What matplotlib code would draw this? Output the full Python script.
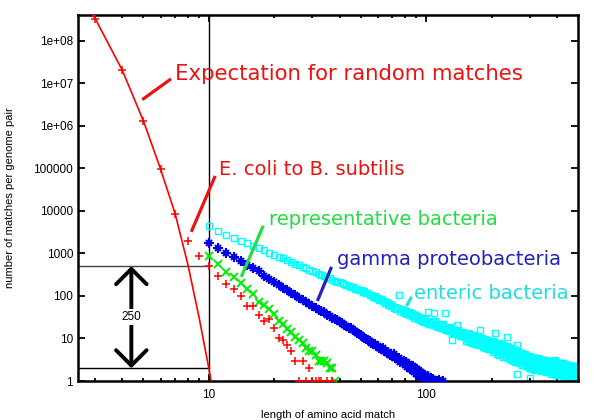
import matplotlib
matplotlib.use("Agg")
import matplotlib.pyplot as plt
from matplotlib.ticker import FuncFormatter, NullLocator

# expected number of random matches (line), by match length
exp_len = [2, 3, 4, 5, 6, 7, 8, 9, 10, 11]
exp_val = [6e9, 3.3e8, 2.0e7, 1.3e6, 9.5e4, 8500, 560, 33, 2, 0.12]

# E. coli to B. subtilis
eb_len = [8, 9, 10, 11, 12, 13, 14, 15, 16, 17, 18, 19, 20, 21, 22, 23, 24, 25,
          26, 27, 28, 29, 30, 31, 32, 33, 35, 37]
eb_val = [1950, 870, 500, 295, 190, 146, 100, 58, 58, 36, 26, 28, 18, 10, 9, 7,
          5, 3, 1, 3, 1, 2, 1, 1, 1, 1, 1, 1]

# representative bacteria
rep_len = list(range(10, 39))
rep_val = [870, 560, 365, 280, 200, 146, 112, 72, 62, 49, 38, 26, 22, 17, 14, 11,
           9, 8, 6, 5, 5, 4, 3, 3, 3, 2.6, 2, 2, 1]

# gamma proteobacteria
gam_len = list(range(10, 107)) + [108, 110, 112, 115, 119]
gam_val = [1780, 1350, 1020, 830, 670, 540, 460, 385, 300, 255,
           212, 185, 152, 136, 114, 104, 88, 80, 71, 66,
           58, 53, 47, 44, 41, 36, 34, 31, 28, 27,
           25, 23, 21, 20, 18, 17.5, 15.5, 15, 13.5, 13,
           12, 11, 10.5, 9.5, 9.2, 8.8, 8, 7.6, 7.4, 6.6,
           6.8, 6, 5.6, 5.9, 5, 5.2, 4.6, 4.8, 4.1, 4.4,
           3.9, 4.2, 3.4, 3.7, 3.1, 3.5, 2.8, 3.2, 2.6, 2.9,
           2.4, 2.8, 2.1, 2.5, 1.9, 2.3, 1.8, 2.2, 1.6, 2.0,
           1.5, 1.9, 1.4, 1.7, 1.3, 1.6, 1.2, 1.5, 1.1, 1.4,
           1.2, 1.0, 1.3, 1.1, 1.0, 1.2, 1.0,
           1.1, 1.0, 1.0, 1.05, 1.0]

# enteric bacteria
ent_len = list(range(10, 501))
ent_val = [4460, 3400, 2740, 2300, 1960, 1780, 1500, 1320, 1170, 1030,
           920, 830, 760, 690, 630, 570, 520, 480, 450, 410,
           385, 355, 335, 305, 292, 270, 258, 238, 230, 214,
           208, 196, 192, 178, 174, 162, 160, 148, 147, 137,
           135, 126, 127, 116, 114, 105, 105, 96, 97, 88,
           89, 81, 83, 74, 77, 68, 71, 62, 66, 57,
           60, 52, 56, 49, 53, 105, 44, 49, 42, 46,
           40, 44, 37, 41, 35, 39, 33, 37, 31, 36,
           30, 34, 29, 32, 27, 31, 26, 30, 25, 28, 24.5,
           23.5, 41, 21.6, 24.9, 22.3, 26.3, 21.2, 24.4, 40, 25.4,
           20, 22, 18.4, 21.2, 19, 22.4, 18, 20.8, 19.4, 21.6,
           17, 40, 15.6, 18, 16.2, 19, 15.3, 17.7, 16.5, 18.4,
           14.5, 9.2, 13.3, 15.4, 13.8, 16.2, 13.1, 21, 14.1, 15.7,
           12.4, 13.6, 11.4, 13.1, 11.8, 13.9, 11.2, 12.9, 12, 13.4,
           10.8, 13, 8.9, 12.4, 9.5, 13.5, 8.4, 11.7, 9.9, 12.7,
           9.5, 11.4, 7.8, 10.9, 8.4, 11.9, 7.4, 10.3, 8.7, 11.2,
           8.5, 10.2, 7.0, 9.8, 7.5, 10.6, 16, 9.2, 7.8, 10,
           7.7, 9.2, 6.3, 8.9, 6.8, 9.6, 6, 8.3, 7.1, 9.1,
           7, 8.4, 5.7, 8.1, 6.2, 8.8, 5.5, 7.6, 6.4, 8.3,
           6.4, 8.3, 4.8, 7.7, 5.4, 8.6, 13.5, 7, 5.8, 8,
           5.8, 7.5, 4.4, 7, 4.9, 7.8, 4.1, 6.4, 5.2, 7.3,
           5.3, 6.9, 4, 6.4, 4.5, 7.2, 3.7, 5.8, 4.8, 6.6,
           4.8, 6.2, 3.6, 5.8, 11, 6.5, 3.4, 5.3, 4.3, 6,
           4.4, 5.7, 3.3, 5.3, 3.7, 5.9, 3.1, 4.8, 4, 5.5,
           4, 5.2, 3, 4.8, 3.4, 5.4, 2.8, 4.4, 3.6, 5,
           7, 4.8, 1.5, 4.4, 3.1, 5, 2.6, 4.1, 3.3, 4.6,
           3.4, 4.4, 2.6, 4.1, 2.9, 4.6, 2.4, 3.7, 3.1, 4.3,
           3.2, 4.1, 2.4, 3.8, 2.7, 4.3, 2.2, 3.5, 2.8, 3.9,
           2.9, 3.8, 2.2, 3.5, 2.5, 3.9, 2.0, 3.2, 2.6, 1.2,
           2.7, 3.5, 2.0, 3.2, 2.3, 3.6, 1.9, 2.9, 2.4, 3.4,
           2.6, 3.4, 2.0, 3.1, 2.2, 3.5, 1.8, 2.9, 2.3, 3.3,
           2.5, 3.3, 1.9, 3.0, 2.1, 3.4, 1.8, 2.8, 2.3, 3.2,
           2.5, 3.2, 1.8, 2.9, 2.1, 3.3, 1.7, 2.7, 2.2, 3.1,
           2.4, 3.1, 1.8, 2.9, 2.0, 3.2, 1.7, 2.6, 2.1, 3.0,
           2.3, 3.0, 1.7, 2.8, 2.0, 3.1, 1.6, 2.5, 2.1, 2.9,
           2.2, 2.9, 1.7, 2.7, 1.9, 3.0, 1.6, 2.5, 2.0, 2.8,
           2.2, 2.8, 1.6, 2.6, 1.9, 2.9, 1.5, 2.4, 2.0, 2.7,
           2.1, 2.8, 1.6, 2.5, 1.8, 2.9, 1.5, 2.3, 1.9, 3.1,
           2.1, 2.7, 1.5, 2.5, 1.8, 2.8, 1.4, 2.3, 1.9, 2.6,
           2.0, 2.6, 1.5, 2.4, 1.7, 2.7, 1.4, 2.2, 1.8, 2.5,
           2.0, 2.5, 1.5, 2.3, 1.7, 2.6, 1.4, 2.1, 1.8, 2.4,
           1.9, 2.5, 1.4, 2.3, 1.6, 2.6, 1.3, 2.1, 1.7, 2.4,
           1.9, 2.4, 1.4, 2.2, 1.6, 2.5, 1.3, 2.0, 1.7, 2.3,
           1.8, 2.3, 1.1, 2.2, 1.5, 2.4, 1.0, 2.0, 1.6, 2.2,
           1.8, 2.3, 1.3, 2.1, 1.5, 2.4, 1.05, 2.0, 1.6, 2.2,
           1.7, 2.2, 1.0, 2.0, 1.4, 2.3, 1.2, 1.9, 1.5, 2.1,
           1.7, 2.2, 1.2, 2.0, 1.4, 2.2, 1.0, 1.8, 1.5, 2.1,
           1.6, 2.1, 1.2, 1.9, 1.4, 2.2, 1.05, 1.8, 1.5, 2.0,
           1.6, 2.0, 1.1, 1.9, 1.3, 2.1, 1.0, 1.7, 1.4, 2.0]

ytick_vals = [1, 10, 100, 1000, 10000, 1e5, 1e6, 1e7, 1e8]

red = '#ff0000'
green = '#00ee00'
blue = '#0000e8'
cyan = '#00ffff'

fig = plt.figure(figsize=(6, 4.2), dpi=100)
ax = fig.add_axes([78/600, 1-381/420, 500/600, 366/420])

ax.plot(ent_len, ent_val, 's', ms=5, mfc='none', mec=cyan, mew=1, zorder=2)
# gnuplot style star = plus and cross on top of each other
ax.plot(gam_len, gam_val, '+', ms=6.5, mec=blue, mew=1.5, zorder=3)
ax.plot(gam_len, gam_val, 'x', ms=5, mec=blue, mew=1.5, zorder=3)
ax.plot(rep_len, rep_val, 'x', ms=5.5, mec=green, mew=1.4, zorder=4)
ax.plot(eb_len, eb_val, '+', ms=6, mec=red, mew=1.1, zorder=5)
ax.plot(exp_len, exp_val, '-+', color=red, lw=1.2, ms=6, mew=1.1,
        markevery=[1, 2, 3, 4, 5], zorder=5)

ax.set_xscale('log')
ax.set_yscale('log')
ax.set_xlim(2.5, 500)
ax.set_ylim(1, 4e8)

# guide lines: length 10, observed 500 vs expected 2
ax.axvline(10, color='black', lw=1, zorder=1)
ax.plot([2.5, 10], [500, 500], color='#444444', lw=1, zorder=1)
ax.plot([2.5, 10], [2, 2], color='black', lw=1, zorder=1)
ax.annotate('', xy=(4.4, 500), xytext=(4.4, 2),
            arrowprops=dict(arrowstyle='<->,head_length=0.55,head_width=0.55',
                            lw=2.8, color='black', shrinkA=0, shrinkB=0,
                            mutation_scale=20))
ax.text(4.4, 31.6, '250', ha='center', va='center', fontsize=8.5,
        family='Liberation Sans',
        bbox=dict(facecolor='white', edgecolor='none', pad=1.5))

# labels with leader lines
labels = [
    ('Expectation for random matches', '#ee1111', 15.3, (7.0, 1.6e7), (4.94, 4.1e6), (6.7, 1.26e7)),
    ('E. coli to B. subtilis', '#ee1111', 14, (11.1, 9.2e4), (8.3, 3200), (10.7, 6.6e4)),
    ('representative bacteria', '#22dd44', 14, (19.0, 6150), (14.1, 280), (17.8, 4440)),
    ('gamma proteobacteria', '#2222c0', 14, (38.7, 700), (31.6, 76), (36.7, 480)),
    ('enteric bacteria', '#22dddd', 14, (87.5, 117), (81.2, 58), (85.7, 95)),
]
for txt, col, fs, pos, p0, p1 in labels:
    ax.text(pos[0], pos[1], txt, color=col, fontsize=fs, ha='left', va='center',
            family='DejaVu Sans', zorder=6)
    ax.plot([p0[0], p1[0]], [p0[1], p1[1]], color=col, lw=2.3,
            solid_capstyle='butt', zorder=6)

ax.set_xticks([10, 100])
ax.set_xticklabels(['10', '100'])
minor = [m * 10 ** e for e in (0, 1, 2) for m in range(2, 10)]
ax.set_xticks([t for t in minor if 2.5 <= t <= 500], minor=True)
ax.set_yticks(ytick_vals)
ax.yaxis.set_minor_locator(NullLocator())
ax.yaxis.set_major_formatter(FuncFormatter(
    lambda v, p: f'{v:.0e}' if v >= 1e6 else f'{int(round(v))}'))

ax.tick_params(which='both', direction='in', top=True, right=True,
               labelsize=8.5, width=1.3)
ax.tick_params(which='major', length=5)
ax.tick_params(which='minor', length=2.5)
for lab in ax.get_xticklabels() + ax.get_yticklabels():
    lab.set_family('Liberation Sans')
ax.tick_params(axis='x', pad=6)
for s in ax.spines.values():
    s.set_linewidth(1.8)

ax.set_xlabel('length of amino acid match', fontsize=8, family='Liberation Sans', labelpad=6)
ax.set_ylabel('number of matches per genome pair', fontsize=8, family='Liberation Sans', labelpad=13)

fig.savefig('out.png', dpi=100)
